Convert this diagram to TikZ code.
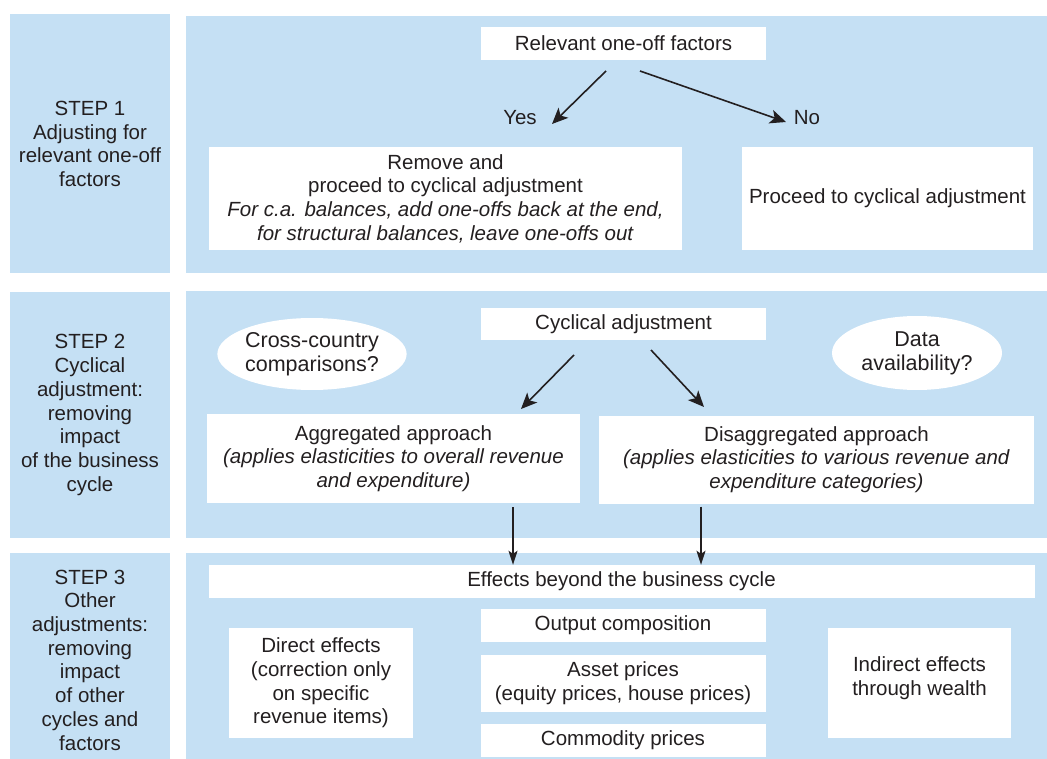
\documentclass[tikz,border=0pt]{standalone}
\usepackage{fontspec}
\setmainfont{Liberation Sans}
\usetikzlibrary{arrows.meta,shapes.geometric}
\definecolor{panel}{RGB}{197,224,244}
\definecolor{ink}{RGB}{35,31,32}
\begin{document}
\begin{tikzpicture}[x=1pt,y=-1pt,
  font=\fontsize{20.5}{23.7}\selectfont, text=ink,
  panelbox/.style={fill=panel, draw=none},
  wbox/.style={fill=white, draw=none, inner sep=0pt, align=center},
  oval/.style={ellipse, fill=white, draw=none, inner sep=0pt, align=center},
  steptext/.style={align=center, inner sep=0pt},
  arr/.style={draw=ink, line width=1.6pt, -{Stealth[length=16pt,width=14pt,inset=4pt]}},
  darr/.style={draw=ink, line width=1.4pt, -{Stealth[length=14pt,width=9pt,inset=3pt]}}]
\useasboundingbox (0,0) rectangle (1047,759);
\fill[white] (0,0) rectangle (1047,759);

% panels
\path[panelbox] (10,14) rectangle (170,273);
\path[panelbox] (186,16) rectangle (1047,273);
\path[panelbox] (10,292) rectangle (170,538);
\path[panelbox] (186,291) rectangle (1047,538);
\path[panelbox] (10,553) rectangle (170,759);
\path[panelbox] (186,553) rectangle (1047,759);

% step labels
\node[steptext] (s1) at (90,144) {STEP 1\\Adjusting for\\relevant one-off\\factors};
\node[steptext] (s2) at (90,415) {STEP 2\\Cyclical\\adjustment:\\removing\\impact\\of the business\\cycle};
\node[steptext] (s3) at (90,660) {STEP 3\\Other\\adjustments:\\removing\\impact\\of other\\cycles and\\factors};

% step 1
\node[wbox, minimum width=285pt, minimum height=33pt] (rel) at (623.5,43.5) {Relevant one-off factors};
\node[inner sep=0pt] (yes) at (520,118) {Yes};
\node[inner sep=0pt] (no) at (807,118) {No};
\node[wbox, minimum width=473pt, minimum height=103pt] (remove) at (445.5,198.5)
  {Remove and\\proceed to cyclical adjustment\\\textit{For c.a. balances, add one-offs back at the end,}\\\textit{for structural balances, leave one-offs out}};
\node[wbox, minimum width=291pt, minimum height=103pt] (proceed) at (887.5,198.5) {Proceed to cyclical adjustment};
\coordinate (ya) at (606,71);
\coordinate (yb) at (552,124);
\coordinate (na) at (640,71);
\coordinate (nb) at (786,122);
\draw[arr] (ya) -- (yb);
\draw[arr] (na) -- (nb);

% step 2
\node[wbox, minimum width=285pt, minimum height=32pt] (cyc) at (623.5,324) {Cyclical adjustment};
\node[oval, minimum width=170pt, minimum height=72pt, font=\fontsize{21.5}{24}\selectfont] (cross) at (312,354) {Cross-country\\comparisons?};
\node[oval, minimum width=170pt, minimum height=74pt, font=\fontsize{21.5}{24}\selectfont] (data) at (917,353) {Data\\availability?};
\node[wbox, minimum width=373pt, minimum height=89pt] (agg) at (393.5,458.5)
  {Aggregated approach\\\textit{(applies elasticities to overall revenue}\\\textit{and expenditure)}};
\node[wbox, minimum width=435pt, minimum height=88pt] (dis) at (816.5,459.5)
  {Disaggregated approach\\\textit{(applies elasticities to various revenue and}\\\textit{expenditure categories)}};
\coordinate (ca) at (574,355);
\coordinate (cb) at (521,409);
\coordinate (da) at (651,350);
\coordinate (db) at (704,407);
\draw[arr] (ca) -- (cb);
\draw[arr] (da) -- (db);

% step 3
\node[wbox, minimum width=826pt, minimum height=33pt] (eff) at (621.5,581.5) {Effects beyond the business cycle};
\node[wbox, minimum width=285pt, minimum height=33pt] (out) at (623,625.5) {Output composition};
\node[wbox, minimum width=285pt, minimum height=57pt] (asset) at (623,683.5) {Asset prices\\(equity prices, house prices)};
\node[wbox, minimum width=285pt, minimum height=33pt] (comm) at (623,740.5) {Commodity prices};
\node[wbox, minimum width=184pt, minimum height=110pt] (direct) at (321,683)
  {Direct effects\\(correction only\\on specific\\revenue items)};
\node[wbox, minimum width=183pt, minimum height=110pt, text depth=14pt] (indirect) at (919.5,683)
  {Indirect effects\\through wealth};
\draw[darr] (agg.south -| 513,0) ++(0,4) -- (eff.north -| 513,0);
\draw[darr] (dis.south -| 701,0) ++(0,3) -- (eff.north -| 701,0);
\end{tikzpicture}
\end{document}
